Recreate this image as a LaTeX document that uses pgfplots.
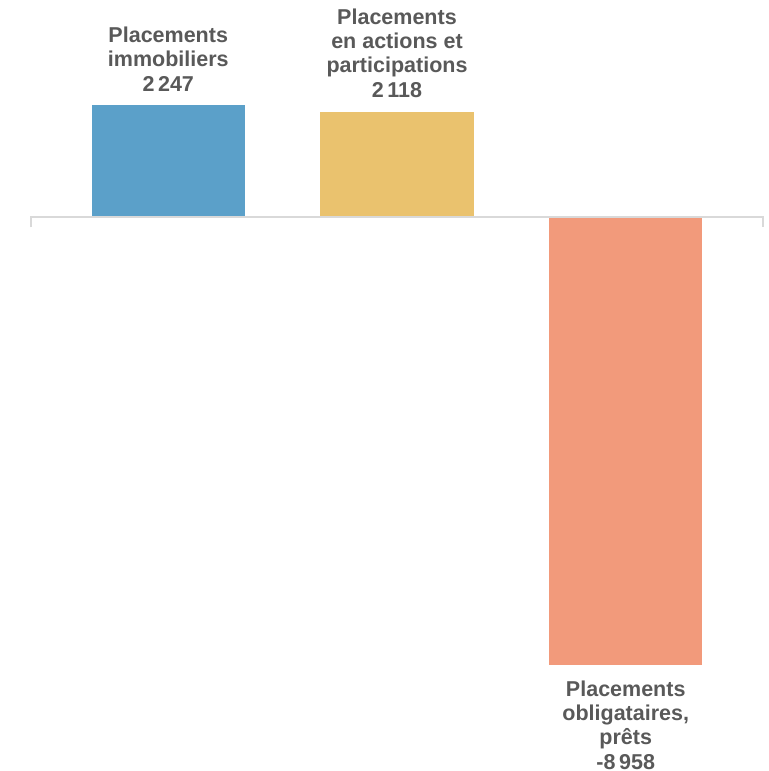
\documentclass[border=0pt]{standalone}
\usepackage{fontspec}
\setmainfont{Liberation Sans}
\usepackage{pgfplots}
\pgfplotsset{compat=1.18}
\definecolor{cblue}{HTML}{5BA0C9}
\definecolor{cyellow}{HTML}{EAC26E}
\definecolor{csalmon}{HTML}{F29A7B}
\definecolor{cgray}{HTML}{595959}
\definecolor{caxis}{HTML}{D9D9D9}
\begin{document}
\begin{tikzpicture}
\begin{axis}[
  scale only axis, width=732pt, height=771pt,
  xmin=-0.6, xmax=2.6, ymin=-11079, ymax=4353,
  axis lines=none, clip=false,
  ybar, bar width=0.67, bar shift=0pt,
  every node near coord/.append style={font=\fontsize{21.5}{24.3}\selectfont\bfseries, text=cgray, align=center, inner sep=3pt},
]
\addplot[fill=cblue, draw=none, nodes near coords={Placements\\immobiliers\\2\,247}, every node near coord/.append style={yshift=11pt}] coordinates {(0,2247)};
\addplot[fill=cyellow, draw=none, nodes near coords={Placements\\en actions et\\participations\\2\,118}, every node near coord/.append style={yshift=11pt}] coordinates {(1,2118)};
\addplot[fill=csalmon, draw=none, nodes near coords={Placements\\obligataires,\\prêts\\-8\,958}, every node near coord/.append style={yshift=-12.5pt}] coordinates {(2,-8958)};
\draw[caxis, line width=2pt] (axis cs:-0.6,-200) -- (axis cs:-0.6,0) -- (axis cs:2.6,0) -- (axis cs:2.6,-200);
\coordinate (sw) at (rel axis cs:0,0);
\coordinate (ne) at (rel axis cs:1,1);
\end{axis}
\pgfresetboundingbox
\path[use as bounding box] ([xshift=-31pt]sw) rectangle ([xshift=6pt]ne);
\end{tikzpicture}
\end{document}
